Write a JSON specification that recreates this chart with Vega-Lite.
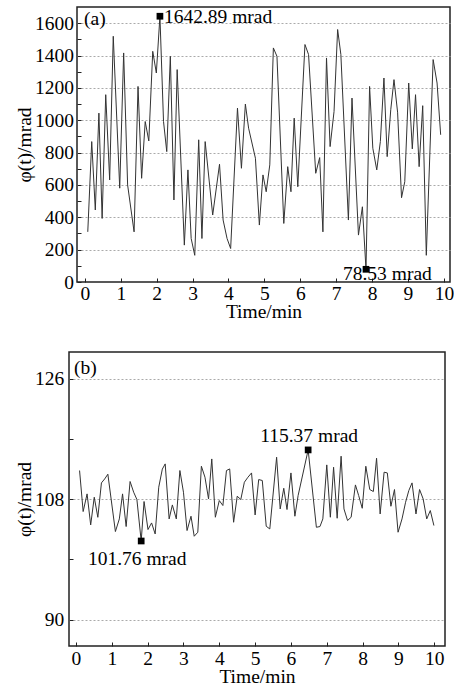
{
"$schema":"https://vega.github.io/schema/vega-lite/v6.json",
"background":"white",
"padding":{"left":12,"top":6,"right":0,"bottom":0},
"columns":2,
"align":"none",
"spacing":{"row":29,"column":0},
"config":{
 "font":"Liberation Serif",
 "view":{"stroke":"#222","strokeWidth":1.5},
 "axis":{"labelFont":"Liberation Serif","labelFontSize":19.5,"labelColor":"#000","titleFont":"Liberation Serif","titleFontSize":19.5,"titleFontWeight":"normal","titleColor":"#000","domain":false,"tickColor":"#222","tickWidth":1,"tickSize":-4,"labelOverlap":false,"labelFlush":false,"format":"d","gridColor":"#aaa","gridDash":[2,2],"gridWidth":1},
 "text":{"font":"Liberation Serif","fontSize":19.5,"color":"#000"}
},
"datasets":{
 "a":[
  {"t":0.08,"v":310},{"t":0.19,"v":868},{"t":0.29,"v":445},{"t":0.39,"v":1044},{"t":0.48,"v":393},{"t":0.58,"v":1158},{"t":0.69,"v":631},{"t":0.79,"v":1519},{"t":0.97,"v":580},{"t":1.08,"v":1416},{"t":1.19,"v":600},{"t":1.37,"v":310},{"t":1.48,"v":1209},{"t":1.58,"v":641},{"t":1.68,"v":992},{"t":1.78,"v":872},{"t":1.89,"v":1426},{"t":1.99,"v":1292},{"t":2.09,"v":1642.89},{"t":2.19,"v":992},{"t":2.28,"v":806},{"t":2.38,"v":1395},{"t":2.48,"v":507},{"t":2.57,"v":1313},{"t":2.77,"v":228},{"t":2.87,"v":693},{"t":2.96,"v":269},{"t":3.06,"v":165},{"t":3.17,"v":879},{"t":3.26,"v":269},{"t":3.35,"v":868},{"t":3.56,"v":414},{"t":3.75,"v":728},{"t":3.85,"v":383},{"t":3.96,"v":269},{"t":4.06,"v":207},{"t":4.25,"v":1075},{"t":4.36,"v":703},{"t":4.47,"v":1100},{"t":4.56,"v":951},{"t":4.75,"v":765},{"t":4.86,"v":352},{"t":4.96,"v":662},{"t":5.05,"v":558},{"t":5.15,"v":724},{"t":5.25,"v":1447},{"t":5.35,"v":1395},{"t":5.54,"v":362},{"t":5.65,"v":713},{"t":5.74,"v":558},{"t":5.83,"v":1013},{"t":5.93,"v":589},{"t":6.13,"v":1468},{"t":6.23,"v":1406},{"t":6.43,"v":672},{"t":6.54,"v":769},{"t":6.63,"v":310},{"t":6.73,"v":1385},{"t":6.83,"v":837},{"t":6.94,"v":1054},{"t":7.04,"v":1561},{"t":7.13,"v":1406},{"t":7.34,"v":383},{"t":7.44,"v":1137},{"t":7.62,"v":290},{"t":7.73,"v":465},{"t":7.83,"v":78.53},{"t":7.93,"v":1209},{"t":8.02,"v":827},{"t":8.13,"v":693},{"t":8.23,"v":868},{"t":8.33,"v":1261},{"t":8.42,"v":775},{"t":8.52,"v":1065},{"t":8.61,"v":1251},{"t":8.71,"v":1050},{"t":8.82,"v":521},{"t":8.91,"v":620},{"t":9.02,"v":1230},{"t":9.12,"v":823},{"t":9.21,"v":1158},{"t":9.31,"v":713},{"t":9.41,"v":1090},{"t":9.51,"v":165},{"t":9.7,"v":1375},{"t":9.81,"v":1230},{"t":9.91,"v":910}
 ],
 "b":[
  {"t":0.1,"v":112.29},{"t":0.2,"v":106.16},{"t":0.31,"v":108.8},{"t":0.41,"v":104.16},{"t":0.51,"v":108.3},{"t":0.61,"v":105.3},{"t":0.71,"v":110.44},{"t":0.8,"v":111.03},{"t":0.89,"v":111.74},{"t":1.1,"v":103.17},{"t":1.21,"v":105.06},{"t":1.3,"v":108.8},{"t":1.4,"v":103.92},{"t":1.51,"v":110.65},{"t":1.61,"v":109.05},{"t":1.7,"v":107.96},{"t":1.82,"v":101.76},{"t":1.9,"v":107.66},{"t":2.01,"v":103.47},{"t":2.11,"v":104.46},{"t":2.21,"v":102.81},{"t":2.31,"v":109.8},{"t":2.41,"v":112.5},{"t":2.49,"v":113.28},{"t":2.6,"v":105.06},{"t":2.69,"v":107.15},{"t":2.8,"v":105.06},{"t":2.9,"v":112.29},{"t":3.0,"v":109.05},{"t":3.1,"v":103.32},{"t":3.21,"v":105.46},{"t":3.3,"v":102.47},{"t":3.4,"v":103.07},{"t":3.5,"v":112.93},{"t":3.6,"v":111.29},{"t":3.7,"v":108.05},{"t":3.79,"v":114.02},{"t":3.89,"v":105.31},{"t":4.0,"v":107.8},{"t":4.1,"v":107.06},{"t":4.2,"v":112.29},{"t":4.29,"v":112.53},{"t":4.4,"v":104.56},{"t":4.5,"v":108.45},{"t":4.6,"v":107.96},{"t":4.7,"v":110.54},{"t":4.8,"v":111.29},{"t":4.9,"v":111.93},{"t":5.0,"v":105.65},{"t":5.1,"v":110.94},{"t":5.2,"v":110.8},{"t":5.31,"v":103.96},{"t":5.41,"v":103.56},{"t":5.6,"v":114.28},{"t":5.7,"v":106.55},{"t":5.8,"v":109.64},{"t":5.89,"v":106.46},{"t":6.0,"v":111.93},{"t":6.11,"v":105.46},{"t":6.2,"v":108.55},{"t":6.48,"v":115.37},{"t":6.71,"v":103.81},{"t":6.81,"v":103.92},{"t":6.89,"v":105.06},{"t":7.0,"v":113.13},{"t":7.1,"v":105.31},{"t":7.19,"v":112.78},{"t":7.29,"v":105.16},{"t":7.4,"v":114.43},{"t":7.48,"v":106.55},{"t":7.58,"v":104.82},{"t":7.68,"v":105.31},{"t":7.8,"v":110.14},{"t":7.89,"v":108.55},{"t":7.99,"v":106.65},{"t":8.09,"v":112.93},{"t":8.2,"v":109.45},{"t":8.3,"v":109.15},{"t":8.39,"v":114.13},{"t":8.49,"v":105.8},{"t":8.6,"v":112.04},{"t":8.69,"v":111.93},{"t":8.79,"v":106.95},{"t":8.89,"v":109.45},{"t":8.99,"v":103.07},{"t":9.1,"v":105.06},{"t":9.2,"v":107.55},{"t":9.29,"v":109.3},{"t":9.38,"v":110.44},{"t":9.49,"v":105.8},{"t":9.59,"v":109.45},{"t":9.69,"v":108.05},{"t":9.79,"v":105.06},{"t":9.89,"v":106.31},{"t":9.99,"v":104.07}
 ],
 "ann":[
  {"panel":"a","kind":"max","t":2.09,"v":1642.89,"label":"1642.89 mrad"},
  {"panel":"a","kind":"min","t":7.83,"v":78.53,"label":"78.53 mrad"},
  {"panel":"b","kind":"max","t":6.48,"v":115.37,"label":"115.37 mrad"},
  {"panel":"b","kind":"min","t":1.82,"v":101.76,"label":"101.76 mrad"}
 ],
 "tags":[
  {"panel":"a","t":-0.22,"v":1700,"tag":"(a)"},
  {"panel":"b","t":-0.195,"v":130,"tag":"(b)"}
 ]
},
"concat":[
 {"width":1,"height":1,"view":{"stroke":null},"data":{"values":[]},"mark":{"type":"point","opacity":0}},
 {
  "width":373,"height":275,
  "encoding":{
   "x":{"field":"t","type":"quantitative","scale":{"domain":[-0.22,10.17],"nice":false,"zero":false},"axis":{"title":"Time/min","values":[0,1,2,3,4,5,6,7,8,9,10],"grid":false,"labelPadding":6,"titlePadding":0}},
   "y":{"field":"v","type":"quantitative","scale":{"domain":[0,1700],"nice":false},"axis":{"title":"φ(t)/mrad","values":[0,100,200,300,400,500,600,700,800,900,1000,1100,1200,1300,1400,1500,1600],"labelExpr":"datum.value % 200 === 0 ? datum.label : ''","gridOpacity":{"condition":{"test":"datum.value % 200 === 0 && datum.value > 0","value":1},"value":0},"labelPadding":7.5,"titlePadding":0}}
  },
  "layer":[
   {"data":{"name":"a"},"mark":{"type":"line","color":"#333","strokeWidth":1}},
   {"data":{"name":"ann"},"transform":[{"filter":"datum.panel === 'a'"}],"mark":{"type":"square","filled":true,"color":"#000","size":45,"opacity":1}},
   {"data":{"name":"ann"},"transform":[{"filter":"datum.panel === 'a' && datum.kind === 'max'"}],"mark":{"type":"text","align":"left","baseline":"alphabetic","dx":4,"dy":7},"encoding":{"text":{"field":"label"}}},
   {"data":{"name":"ann"},"transform":[{"filter":"datum.panel === 'a' && datum.kind === 'min'"}],"mark":{"type":"text","align":"left","baseline":"alphabetic","dx":-23,"dy":11},"encoding":{"text":{"field":"label"}}},
   {"data":{"name":"tags"},"transform":[{"filter":"datum.panel === 'a'"}],"mark":{"type":"text","align":"left","baseline":"top","dx":7,"dy":3},"encoding":{"text":{"field":"tag"}}}
  ]
 },
 {"width":1,"height":1,"view":{"stroke":null},"data":{"values":[]},"mark":{"type":"point","opacity":0}},
 {
  "width":376,"height":294,
  "encoding":{
   "x":{"field":"t","type":"quantitative","scale":{"domain":[-0.195,10.3],"nice":false,"zero":false},"axis":{"title":"Time/min","values":[0,1,2,3,4,5,6,7,8,9,10],"grid":false,"labelPadding":7.4,"titlePadding":0}},
   "y":{"field":"v","type":"quantitative","scale":{"domain":[86.07,130],"nice":false,"zero":false},"axis":{"title":"φ(t)/mrad","values":[90,99,108,117,126],"labelExpr":"datum.value % 18 === 0 ? datum.label : ''","gridOpacity":{"condition":{"test":"datum.value % 18 === 0","value":1},"value":0},"labelPadding":9.2,"titlePadding":0}}
  },
  "layer":[
   {"data":{"name":"b"},"mark":{"type":"line","color":"#333","strokeWidth":1}},
   {"data":{"name":"ann"},"transform":[{"filter":"datum.panel === 'b'"}],"mark":{"type":"square","filled":true,"color":"#000","size":45,"opacity":1}},
   {"data":{"name":"ann"},"transform":[{"filter":"datum.panel === 'b' && datum.kind === 'max'"}],"mark":{"type":"text","align":"center","baseline":"alphabetic","dx":1,"dy":-8},"encoding":{"text":{"field":"label"}}},
   {"data":{"name":"ann"},"transform":[{"filter":"datum.panel === 'b' && datum.kind === 'min'"}],"mark":{"type":"text","align":"center","baseline":"alphabetic","dx":-4,"dy":24},"encoding":{"text":{"field":"label"}}},
   {"data":{"name":"tags"},"transform":[{"filter":"datum.panel === 'b'"}],"mark":{"type":"text","align":"left","baseline":"top","dx":5,"dy":7},"encoding":{"text":{"field":"tag"}}}
  ]
 }
]
}
